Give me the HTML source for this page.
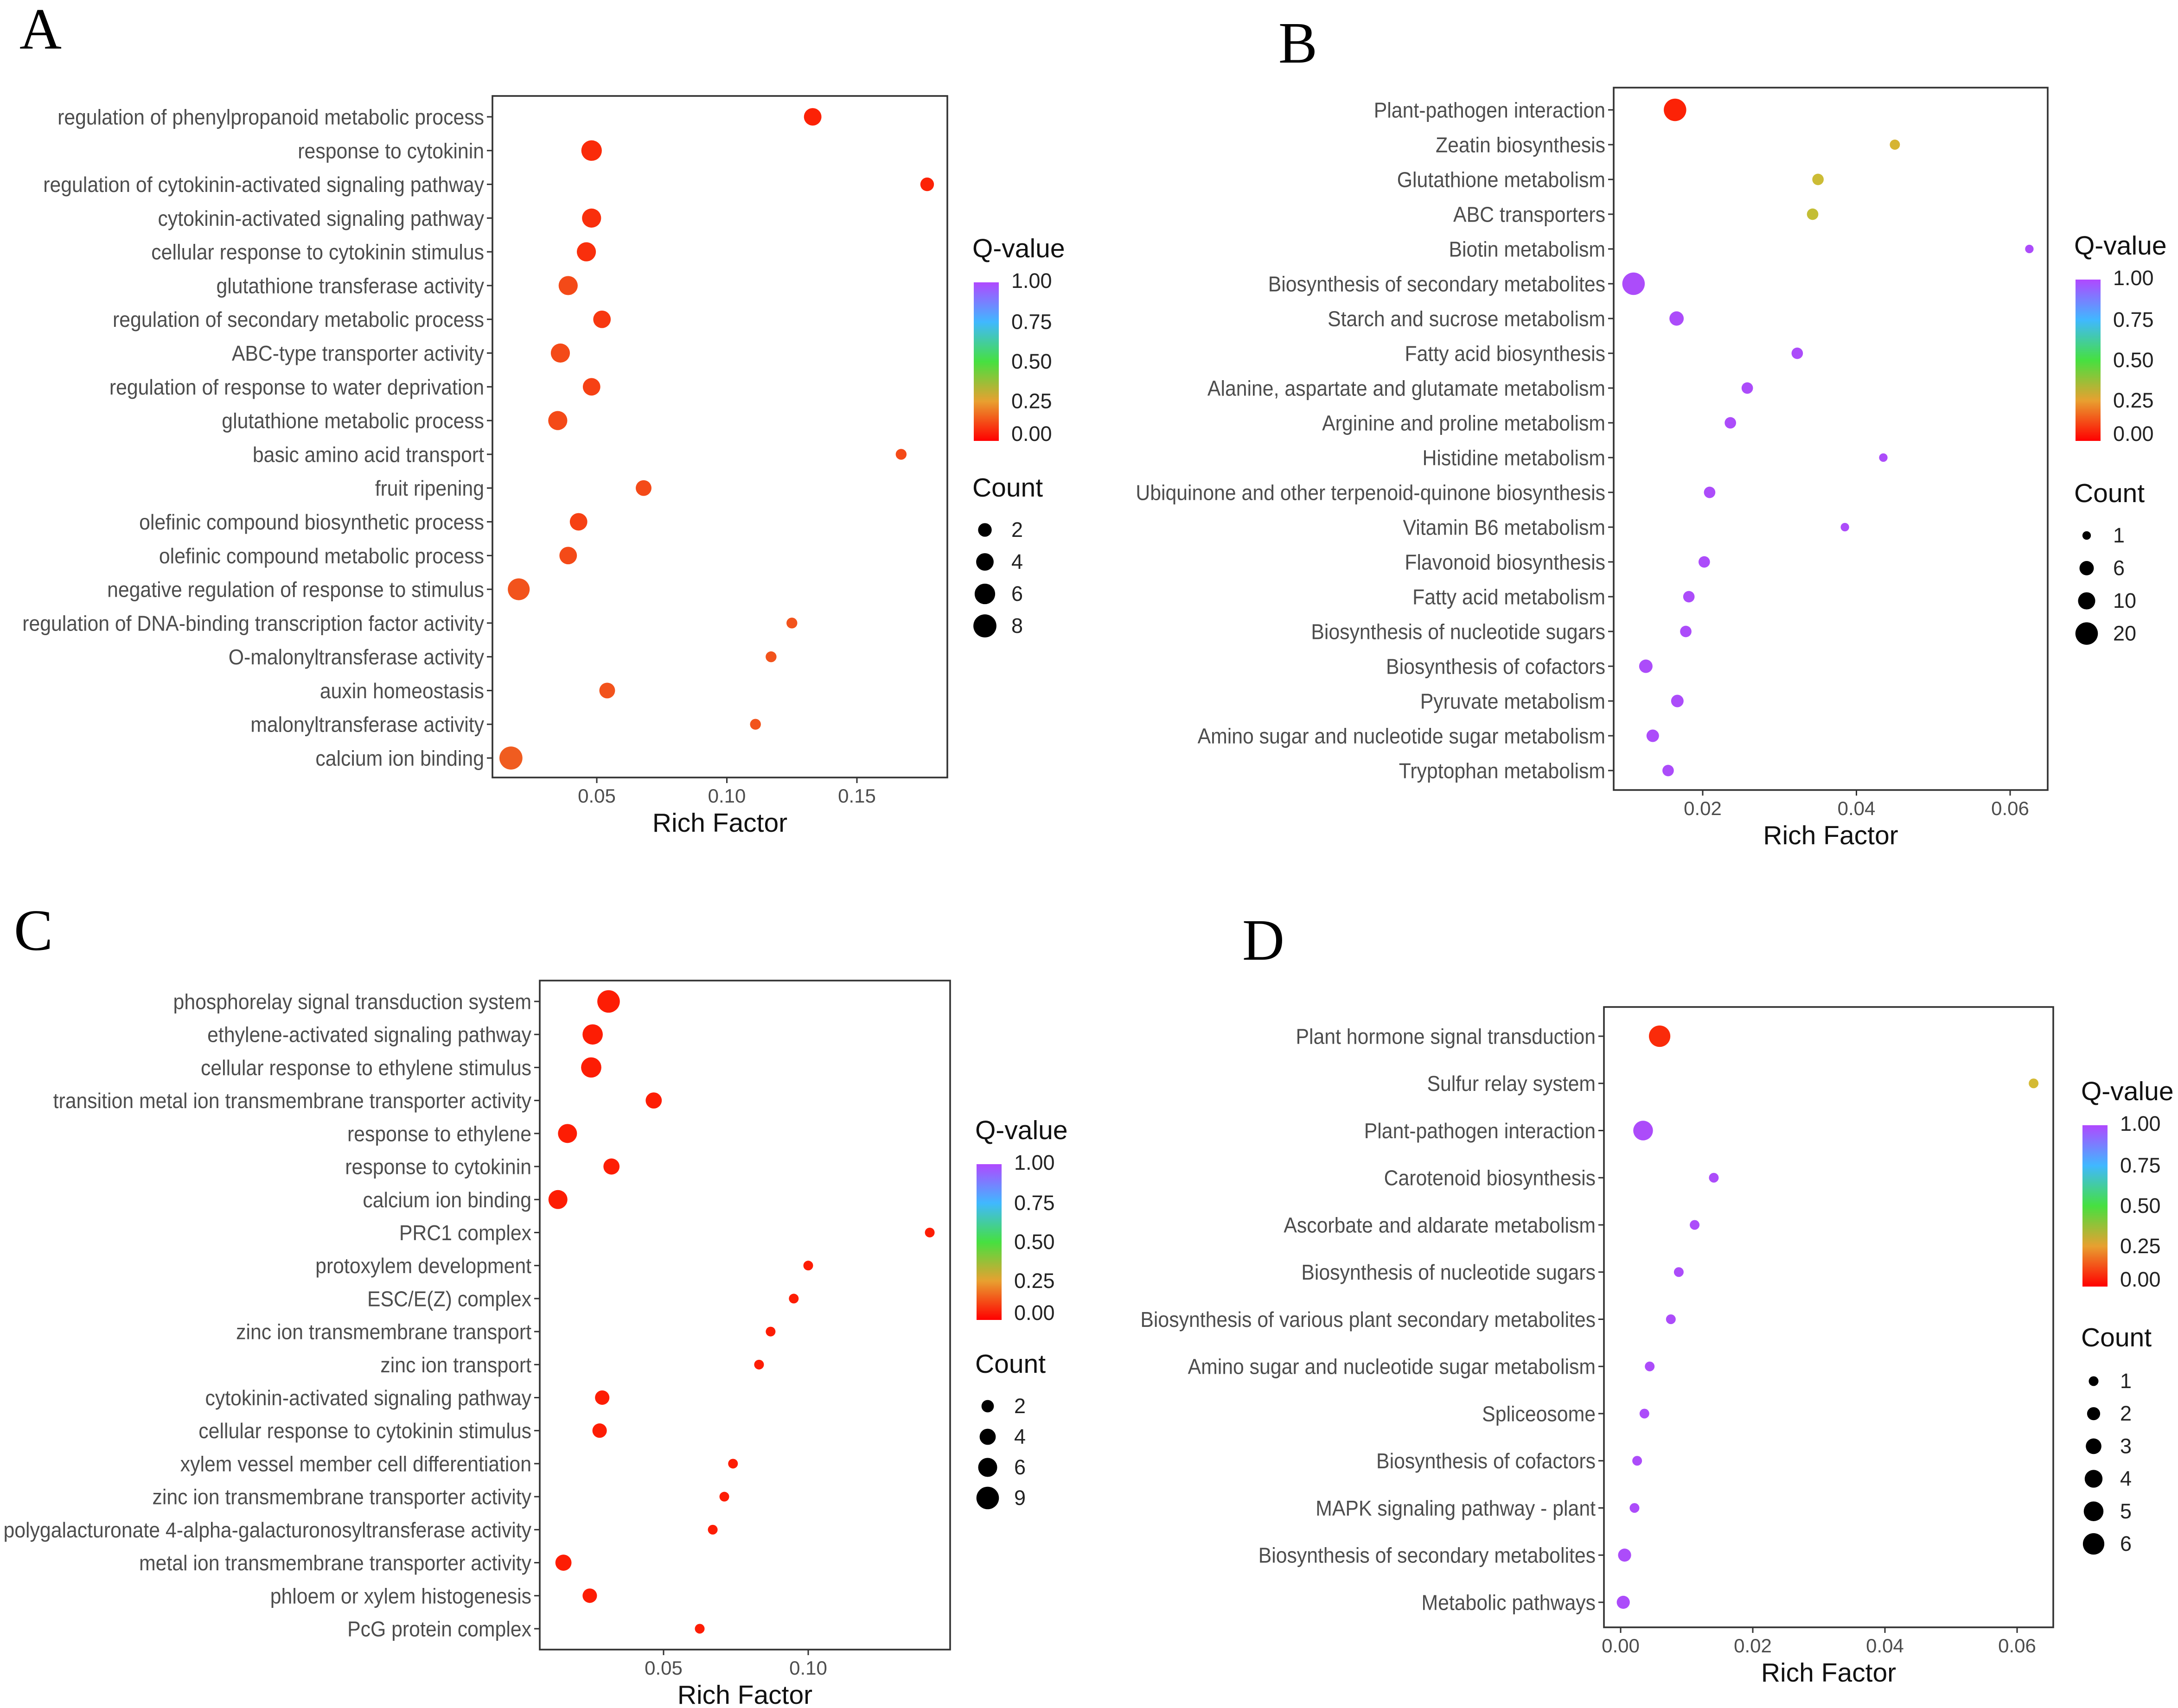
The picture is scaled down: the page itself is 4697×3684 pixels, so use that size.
<!DOCTYPE html>
<html><head><meta charset="utf-8"><style>
html,body{margin:0;padding:0;background:#fff}
svg{display:block}
text{font-family:"Liberation Sans",sans-serif}
</style></head><body>
<svg id="chart" xmlns="http://www.w3.org/2000/svg" width="4697" height="3684" viewBox="0 0 1565.67 1228">
<defs>
<linearGradient id="qgrad" x1="0" y1="1" x2="0" y2="0">
<stop offset="0" stop-color="#ff0000"/><stop offset="0.25" stop-color="#e8a030"/><stop offset="0.5" stop-color="#46e040"/><stop offset="0.75" stop-color="#40b8ff"/><stop offset="1" stop-color="#b048ff"/>
</linearGradient>
</defs>
</svg>
<script>
// Panel A
const aTerms=["regulation of phenylpropanoid metabolic process","response to cytokinin","regulation of cytokinin-activated signaling pathway","cytokinin-activated signaling pathway","cellular response to cytokinin stimulus","glutathione transferase activity","regulation of secondary metabolic process","ABC-type transporter activity","regulation of response to water deprivation","glutathione metabolic process","basic amino acid transport","fruit ripening","olefinic compound biosynthetic process","olefinic compound metabolic process","negative regulation of response to stimulus","regulation of DNA-binding transcription factor activity","O-malonyltransferase activity","auxin homeostasis","malonyltransferase activity","calcium ion binding"];
const aRich=[0.133,0.048,0.177,0.048,0.046,0.039,0.052,0.036,0.048,0.035,0.167,0.068,0.043,0.039,0.020,0.125,0.117,0.054,0.111,0.017];
const aCount=[4,6,2,5,5,5,4,5,4,5,1,3,4,4,7,1,1,3,1,8];
const aQ=[0.03,0.05,0.03,0.06,0.06,0.12,0.08,0.12,0.1,0.12,0.12,0.12,0.1,0.12,0.14,0.14,0.14,0.14,0.14,0.16];
const aTicks=[0.05,0.10,0.15];
const aLegend=[2,4,6,8];
// Panel B
const bTerms=["Plant-pathogen interaction","Zeatin biosynthesis","Glutathione metabolism","ABC transporters","Biotin metabolism","Biosynthesis of secondary metabolites","Starch and sucrose metabolism","Fatty acid biosynthesis","Alanine, aspartate and glutamate metabolism","Arginine and proline metabolism","Histidine metabolism","Ubiquinone and other terpenoid-quinone biosynthesis","Vitamin B6 metabolism","Flavonoid biosynthesis","Fatty acid metabolism","Biosynthesis of nucleotide sugars","Biosynthesis of cofactors","Pyruvate metabolism","Amino sugar and nucleotide sugar metabolism","Tryptophan metabolism"];
const bRich=[0.0164,0.045,0.035,0.0343,0.0625,0.011,0.0166,0.0323,0.0258,0.0236,0.0435,0.0209,0.0385,0.0202,0.0182,0.0178,0.0126,0.0167,0.0135,0.0155];
const bCount=[20,2,3,3,1,20,6,3,3,3,1,3,1,3,3,3,5,4,4,3];
const bQ=[0.03,0.32,0.34,0.35,1,1,1,1,1,1,1,1,1,1,1,1,1,1,1,1];
const bTicks=[0.02,0.04,0.06];
const bLegend=[1,6,10,20];
// Panel C
const cTerms=["phosphorelay signal transduction system","ethylene-activated signaling pathway","cellular response to ethylene stimulus","transition metal ion transmembrane transporter activity","response to ethylene","response to cytokinin","calcium ion binding","PRC1 complex","protoxylem development","ESC/E(Z) complex","zinc ion transmembrane transport","zinc ion transport","cytokinin-activated signaling pathway","cellular response to cytokinin stimulus","xylem vessel member cell differentiation","zinc ion transmembrane transporter activity","polygalacturonate 4-alpha-galacturonosyltransferase activity","metal ion transmembrane transporter activity","phloem or xylem histogenesis","PcG protein complex"];
const cRich=[0.031,0.0255,0.025,0.0466,0.0168,0.032,0.0135,0.142,0.100,0.095,0.087,0.083,0.0288,0.0279,0.074,0.071,0.067,0.0154,0.0245,0.0625];
const cCount=[9,7,7,4,6,4,6,1,1,1,1,1,3,3,1,1,1,4,3,1];
const cQ=[0.02,0.02,0.02,0.02,0.02,0.02,0.02,0.02,0.02,0.02,0.02,0.02,0.02,0.02,0.02,0.02,0.02,0.02,0.02,0.02];
const cTicks=[0.05,0.10];
const cLegend=[2,4,6,9];
// Panel D
const dTerms=["Plant hormone signal transduction","Sulfur relay system","Plant-pathogen interaction","Carotenoid biosynthesis","Ascorbate and aldarate metabolism","Biosynthesis of nucleotide sugars","Biosynthesis of various plant secondary metabolites","Amino sugar and nucleotide sugar metabolism","Spliceosome","Biosynthesis of cofactors","MAPK signaling pathway - plant","Biosynthesis of secondary metabolites","Metabolic pathways"];
const dRich=[0.0059,0.0625,0.0034,0.0141,0.0112,0.0088,0.0076,0.0044,0.0036,0.0025,0.0021,0.0006,0.0004];
const dCount=[6,1,5,1,1,1,1,1,1,1,1,2,2];
const dQ=[0.05,0.33,1,1,1,1,1,1,1,1,1,1,1];
const dTicks=[0.00,0.02,0.04,0.06];
const dLegend=[1,2,3,4,5,6];

const NS="http://www.w3.org/2000/svg";
const svg=document.getElementById('chart');
function mk(tag,attrs,parent,txt){const e=document.createElementNS(NS,tag);for(const k in attrs)e.setAttribute(k,attrs[k]);if(txt!==undefined)e.textContent=txt;(parent||svg).appendChild(e);return e;}
const stops=[[0,[255,20,0]],[0.2,[236,110,40]],[0.33,[212,186,52]],[0.5,[70,224,64]],[0.75,[64,184,255]],[1,[172,76,250]]];
function qcol(q){for(let i=1;i<stops.length;i++){if(q<=stops[i][0]){const a=stops[i-1],b=stops[i],t=(q-a[0])/(b[0]-a[0]);const c=a[1].map((v,j)=>Math.round(v+(b[1][j]-v)*t));return `rgb(${c})`;}}return 'rgb(172,76,250)';}

function panel(cfg){
  const g=mk('g',{});
  
  
  const L=mk('text',{x:cfg.letter[0],y:cfg.letter[1],'font-size':42,style:'font-family:"Liberation Serif",serif'},g,cfg.id.toUpperCase());
  
  
  const [x0,y0,x1,y1]=cfg.box;
  const xs=v=>cfg.xa+(v-cfg.va)*(cfg.xb-cfg.xa)/(cfg.vb-cfg.va);
  const n=cfg.terms.length;
  const ys=i=>cfg.r0+i*(cfg.r1-cfg.r0)/(n-1);
  const box=mk('rect',{x:x0,y:y0,width:x1-x0,height:y1-y0,fill:'#fff',stroke:'#333','stroke-width':1.2},g);
  
  
  cfg.terms.forEach((t,i)=>{
    const y=ys(i);
    mk('line',{x1:x0-4,x2:x0,y1:y,y2:y,stroke:'#333','stroke-width':1},g);
    const tx=mk('text',{x:0,y:0,'text-anchor':'end','font-size':15.5,fill:'#4d4d4d',transform:`translate(${x0-6},${y+5.5}) scale(0.92,1)`},g,t);
    
    
  });
  cfg.ticks.forEach(v=>{
    const x=xs(v);
    mk('line',{x1:x,x2:x,y1:y1,y2:y1+4,stroke:'#333','stroke-width':1},g);
    const tx=mk('text',{x:x,y:y1+18,'text-anchor':'middle','font-size':14,fill:'#4d4d4d'},g,v.toFixed(2));
    
    
  });
  const at=mk('text',{x:(x0+x1)/2,y:y1+39,'text-anchor':'middle','font-size':19,fill:'#111'},g,'Rich Factor');
  
  
  cfg.terms.forEach((t,i)=>{
    const c=mk('circle',{cx:xs(cfg.rich[i]),cy:ys(i),r:cfg.rad(cfg.count[i]),fill:qcol(cfg.q[i])},g);
    
    
  });
  const [lx,ly]=cfg.leg;
  const qt=mk('text',{x:lx-1,y:ly,'font-size':19,fill:'#111'},g,'Q-value');
  
  
  const bar=mk('rect',{x:lx,y:ly+18,width:18,height:cfg.barH,fill:'url(#qgrad)'},g);
  
  
  ['1.00','0.75','0.50','0.25','0.00'].forEach((s,k)=>{
    const yy=ly+18+k*cfg.barH/4;
    const tx=mk('text',{x:lx+27,y:yy+(k==0?4:k==4?0:5),'font-size':15,fill:'#222'},g,s);
    
    
  });
  const ct=mk('text',{x:lx-1,y:cfg.cnt[0],'font-size':19,fill:'#111'},g,'Count');
  
  
  cfg.legend.forEach((v,k)=>{
    const yy=cfg.cnt[1]+k*cfg.cnt[2];
    const c=mk('circle',{cx:lx+8,cy:yy,r:cfg.rad(v),fill:'#000'},g);
    
    
    const tx=mk('text',{x:lx+27,y:yy+5,'font-size':15,fill:'#222'},g,String(v));
    
    
  });
}
panel({id:'a',letter:[14,35],box:[354,69,681,559],xa:429,xb:616,va:0.05,vb:0.15,r0:84,r1:545,terms:aTerms,rich:aRich,count:aCount,q:aQ,ticks:aTicks,legend:aLegend,rad:c=>1.5+2.4*Math.sqrt(c),leg:[700,185],barH:114,cnt:[357,381,23]});
panel({id:'b',letter:[919,45],box:[1160,63,1472,568],xa:1224,xb:1445,va:0.02,vb:0.06,r0:79,r1:554,terms:bTerms,rich:bRich,count:bCount,q:bQ,ticks:bTicks,legend:bLegend,rad:c=>1.6+1.45*Math.sqrt(c),leg:[1492,183],barH:116,cnt:[361,385,23.5]});
panel({id:'c',letter:[10,683],box:[388,705,683,1186],xa:477,xb:581,va:0.05,vb:0.10,r0:720,r1:1171,terms:cTerms,rich:cRich,count:cCount,q:cQ,ticks:cTicks,legend:cLegend,rad:c=>1.2+2.3*Math.sqrt(c),leg:[702,819],barH:112,cnt:[987,1011,22]});
panel({id:'d',letter:[893,690],box:[1153,724,1476,1170],xa:1165,xb:1450,va:0.00,vb:0.06,r0:745,r1:1152,terms:dTerms,rich:dRich,count:dCount,q:dQ,ticks:dTicks,legend:dLegend,rad:c=>0.6+2.9*Math.sqrt(c),leg:[1497,791],barH:116,cnt:[968,993,23.4]});
</script>
</body></html>
